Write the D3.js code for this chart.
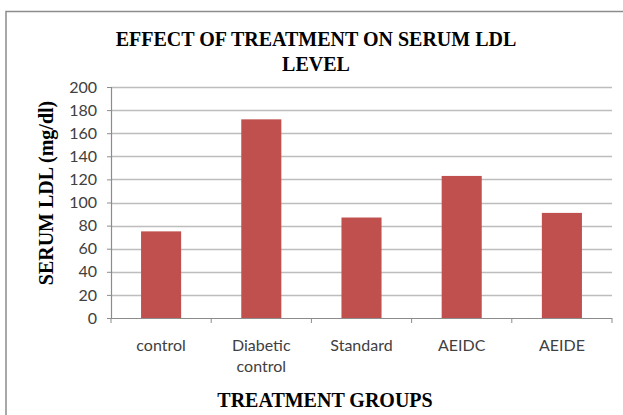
<!DOCTYPE html>
<html>
<head>
<meta charset="utf-8">
<script src="https://cdn.jsdelivr.net/npm/d3@7"></script>
<style>
  html, body { margin: 0; padding: 0; background: #fff; }
  svg { display: block; }
</style>
</head>
<body>
<svg id="chart" width="623" height="415"></svg>
<script>
// Serum LDL level per treatment group (mg/dl)
const groups = ["control", "Diabetic control", "Standard", "AEIDC", "AEIDE"];
const ldl = [75, 172, 87, 123, 91];
const yTicks = [0, 20, 40, 60, 80, 100, 120, 140, 160, 180, 200];

const titleLines = ["EFFECT OF TREATMENT ON SERUM LDL", "LEVEL"];
const yTitle = "SERUM LDL (mg/dl)";
const xTitle = "TREATMENT GROUPS";

const W = 623, H = 415;
const plot = { left: 111, right: 612, top: 87, bottom: 318 };

const svg = d3.select("#chart");

// outer chart frame
svg.append("rect")
  .attr("x", 6).attr("y", 11.5)
  .attr("width", W + 10).attr("height", H + 10)
  .attr("fill", "none")
  .attr("stroke", "#8c8c8c")
  .attr("stroke-width", 1.5);

const x = d3.scaleBand()
  .domain(groups)
  .range([plot.left, plot.right])
  .paddingInner(0.6)
  .paddingOuter(0.3);

const y = d3.scaleLinear()
  .domain([0, 200])
  .range([plot.bottom, plot.top]);

const serif = "'Liberation Serif', 'Times New Roman', serif";
const sans = "Lato, 'Open Sans', sans-serif";

// horizontal gridlines
svg.append("g")
  .selectAll("line")
  .data(yTicks.filter(d => d > 0))
  .join("line")
  .attr("x1", plot.left).attr("x2", plot.right)
  .attr("y1", d => Math.round(y(d)) + 0.5)
  .attr("y2", d => Math.round(y(d)) + 0.5)
  .attr("stroke", "#bdbdbd")
  .attr("stroke-width", 1.3);

// y axis
const yAxis = svg.append("g")
  .attr("transform", `translate(${plot.left},0)`)
  .call(d3.axisLeft(y).tickValues(yTicks).tickSize(4).tickPadding(10));
yAxis.select(".domain").attr("stroke", "#8c8c8c").attr("stroke-width", 1.2);
yAxis.selectAll(".tick line").attr("stroke", "#8c8c8c");
yAxis.selectAll(".tick text")
  .attr("font-family", sans)
  .attr("font-size", 16)
  .attr("fill", "#404040");

// bars
svg.append("g")
  .selectAll("rect")
  .data(groups.map((g, i) => ({ g, v: ldl[i] })))
  .join("rect")
  .attr("x", d => x(d.g))
  .attr("y", d => y(d.v))
  .attr("width", x.bandwidth())
  .attr("height", d => y(0) - y(d.v))
  .attr("fill", "#c0504d");

// x axis with boundary ticks between categories
const xg = svg.append("g");
xg.append("line")
  .attr("x1", plot.left).attr("x2", plot.right)
  .attr("y1", plot.bottom + 0.5).attr("y2", plot.bottom + 0.5)
  .attr("stroke", "#8c8c8c").attr("stroke-width", 1.2);
xg.selectAll("line.tk")
  .data(d3.range(groups.length + 1))
  .join("line")
  .attr("class", "tk")
  .attr("x1", i => plot.left + i * (plot.right - plot.left) / groups.length)
  .attr("x2", i => plot.left + i * (plot.right - plot.left) / groups.length)
  .attr("y1", plot.bottom).attr("y2", plot.bottom + 5)
  .attr("stroke", "#8c8c8c");

// category labels (wrapped onto two lines where needed)
const labelRows = { "Diabetic control": ["Diabetic", "control"] };
xg.selectAll("text")
  .data(groups)
  .join("text")
  .attr("text-anchor", "middle")
  .attr("font-family", sans)
  .attr("font-size", 16)
  .attr("fill", "#404040")
  .each(function (g) {
    const rows = labelRows[g] || [g];
    const t = d3.select(this);
    rows.forEach((r, k) => {
      t.append("tspan")
        .attr("x", x(g) + x.bandwidth() / 2)
        .attr("y", 351 + k * 21)
        .text(r);
    });
  });

// chart title
svg.append("text")
  .attr("text-anchor", "middle")
  .attr("font-family", serif)
  .attr("font-weight", "bold")
  .attr("font-size", 20)
  .attr("fill", "#000")
  .selectAll("tspan")
  .data(titleLines)
  .join("tspan")
  .attr("x", 316)
  .attr("y", (d, i) => 46 + i * 25)
  .text(d => d);

// axis titles
svg.append("text")
  .attr("transform", "translate(53,193) rotate(-90)")
  .attr("text-anchor", "middle")
  .attr("font-family", serif)
  .attr("font-weight", "bold")
  .attr("font-size", 20)
  .attr("fill", "#000")
  .text(yTitle);

svg.append("text")
  .attr("x", 325).attr("y", 407)
  .attr("text-anchor", "middle")
  .attr("font-family", serif)
  .attr("font-weight", "bold")
  .attr("font-size", 20)
  .attr("fill", "#000")
  .text(xTitle);
</script>
</body>
</html>
